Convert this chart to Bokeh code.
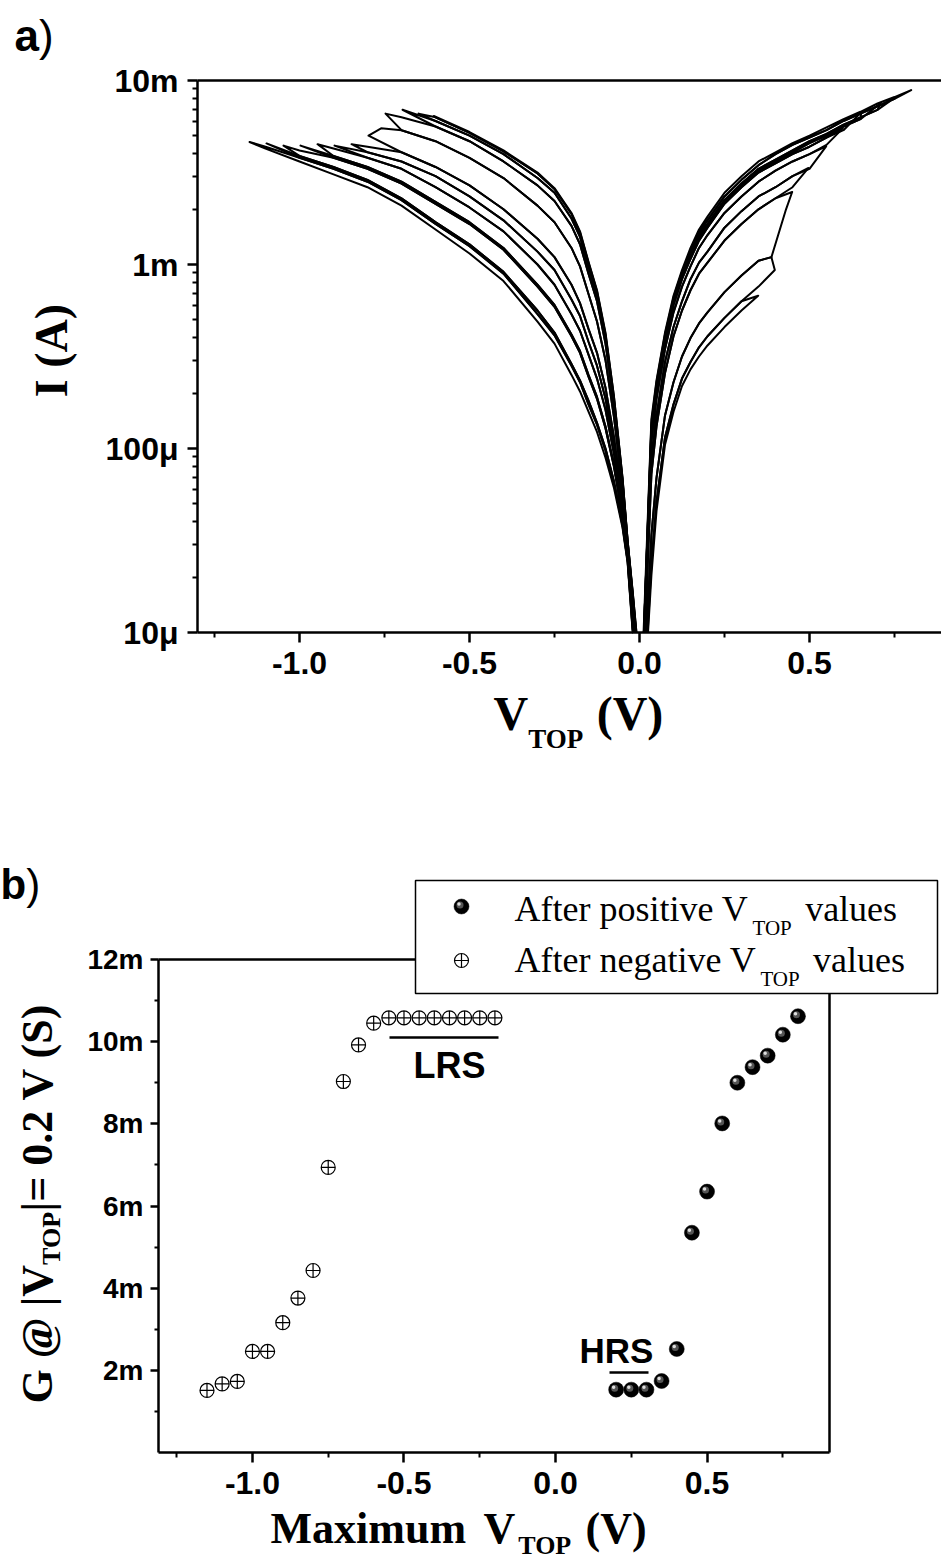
import math
from bokeh.plotting import figure
from bokeh.models import (Range1d, FixedTicker, CustomJSTickFormatter, PrintfTickFormatter,
                          Label, LinearAxis, ColumnDataSource)
from bokeh.layouts import column
from bokeh.embed import file_html
from bokeh.resources import INLINE

# ======================= panel a data : I-V sweeps (log10 of |I| in A) =======================
NEG_V = [-0.02, -0.035, -0.05, -0.075, -0.1, -0.125, -0.15, -0.175, -0.2, -0.25, -0.3, -0.4,
         -0.5, -0.6, -0.7, -0.8, -0.9, -1.0, -1.1]
N_FOOT_V = [-0.009, -0.009, -0.010, -0.010, -0.011, -0.012, -0.013, -0.014, -0.015, -0.016,
            -0.018, -0.018, -0.019]          # where each curve leaves the 10 uA floor
N0_LOG = [-4.78, -4.50, -4.16, -3.72, -3.37, -3.14, -2.985, -2.82, -2.72, -2.585, -2.50, -2.38, -2.28]
N0_TIP = (-0.605, -2.193)
N1_LOG = [-4.78, -4.50, -4.16, -3.72, -3.38, -3.145, -2.99, -2.825, -2.725, -2.59, -2.505, -2.385, -2.285, -2.20]
N1_TIP = (-0.65, -2.18)
N2_LOG = [-4.79, -4.50, -4.17, -3.74, -3.39, -3.165, -3.01, -2.85, -2.75, -2.61, -2.53, -2.40, -2.30, -2.22]
N2_TIP = (-0.697, -2.159)
N3_LOG = [-4.80, -4.51, -4.18, -3.76, -3.43, -3.20, -3.05, -2.89, -2.79, -2.655, -2.57, -2.44, -2.33, -2.25, -2.20]
N3_TIP = (-0.747, -2.18)
N4_LOG = [-4.83, -4.53, -4.22, -3.83, -3.52, -3.31, -3.16, -3.01, -2.91, -2.77, -2.68, -2.53, -2.42, -2.33, -2.27]
N4_EXTRA = [(-0.76, -2.26)]
N4_TIP = (-0.797, -2.30)
N5_LOG = [-4.88, -4.55, -4.28, -3.94, -3.67, -3.48, -3.35, -3.21, -3.11, -2.96, -2.86, -2.70, -2.57, -2.47, -2.39, -2.36]
N5_TIP = (-0.847, -2.346)
N6_LOG = [-4.90, -4.56, -4.30, -3.98, -3.73, -3.55, -3.42, -3.28, -3.19, -3.03, -2.93, -2.76, -2.63, -2.52, -2.44, -2.39]
N6_TIP = (-0.897, -2.354)
N7_LOG = [-4.92, -4.57, -4.33, -4.03, -3.79, -3.62, -3.49, -3.36, -3.27, -3.11, -3.00, -2.82, -2.69, -2.58, -2.48, -2.42, -2.37]
N7_TIP = (-0.947, -2.346)
N8_LOG = [-4.94, -4.59, -4.36, -4.09, -3.88, -3.72, -3.60, -3.47, -3.38, -3.22, -3.11, -2.91, -2.77, -2.66, -2.55, -2.47, -2.41]
N8_TIP = (-0.997, -2.354)
N9_LOG = [-4.95, -4.59, -4.37, -4.10, -3.89, -3.73, -3.61, -3.48, -3.39, -3.23, -3.12, -2.92, -2.78, -2.67, -2.56, -2.48, -2.42, -2.38]
N9_TIP = (-1.047, -2.354)
N10_LOG = [-4.98, -4.61, -4.41, -4.18, -4.00, -3.86, -3.74, -3.63, -3.54, -3.37, -3.25, -3.04, -2.89, -2.77, -2.64, -2.54, -2.47, -2.41]
N10_TIP = (-1.097, -2.342)
N11_LOG = [-4.99, -4.61, -4.42, -4.19, -4.01, -3.87, -3.76, -3.64, -3.55, -3.385, -3.27, -3.05, -2.90, -2.78, -2.65, -2.55, -2.48, -2.42, -2.36]
N11_TIP = (-1.147, -2.334)
N12_LOG = [-5.00, -4.62, -4.43, -4.215, -4.05, -3.91, -3.80, -3.69, -3.60, -3.43, -3.31, -3.09, -2.94, -2.81, -2.68, -2.58, -2.51, -2.44, -2.37]
N12_TIP = (-1.147, -2.334)

POS_V = [0.035, 0.05, 0.075, 0.1, 0.125, 0.15, 0.175, 0.2, 0.25, 0.3, 0.35, 0.4, 0.45, 0.5,
         0.55, 0.6, 0.65, 0.7, 0.75]
P_FOOT_V = [0.025, 0.024, 0.021, 0.016, 0.015, 0.014, 0.013, 0.013, 0.013, 0.013, 0.012]
P0_LOG = [-4.69, -4.34, -3.98, -3.80, -3.66, -3.57, -3.50, -3.44, -3.34, -3.25]
P0_TIP = (0.349, -3.17)
P1_LOG = [-4.63, -4.29, -3.94, -3.76, -3.62, -3.53, -3.45, -3.39, -3.29, -3.20, -3.12]
P1_TIP = (0.398, -3.03)
P2_LOG = [-4.47, -4.16, -3.82, -3.64, -3.50, -3.40, -3.32, -3.26, -3.15, -3.06, -2.98]
P2_EXTRA = [(0.388, -2.96), (0.431, -2.70)]
P2_TIP = (0.449, -2.606)
P3_LOG = [-4.14, -3.88, -3.59, -3.39, -3.25, -3.14, -3.05, -2.99, -2.87, -2.78, -2.70, -2.64, -2.58]
P3_TIP = (0.497, -2.475)
P4_LOG = [-4.06, -3.82, -3.53, -3.34, -3.20, -3.08, -2.99, -2.93, -2.80, -2.71, -2.63, -2.58, -2.52, -2.48]
P4_TIP = (0.549, -2.358)
P5_LOG = [-3.96, -3.73, -3.46, -3.26, -3.12, -3.01, -2.91, -2.84, -2.72, -2.63, -2.55, -2.49, -2.44, -2.40, -2.35]
P5_TIP = (0.598, -2.26)
P6_LOG = [-3.91, -3.69, -3.42, -3.22, -3.08, -2.97, -2.87, -2.80, -2.67, -2.58, -2.50, -2.45, -2.40, -2.36, -2.31, -2.27]
P6_TIP = (0.652, -2.173)
P7_LOG = [-3.89, -3.68, -3.41, -3.21, -3.07, -2.96, -2.855, -2.79, -2.66, -2.57, -2.49, -2.44, -2.39, -2.34, -2.30, -2.25, -2.21]
P7_TIP = (0.709, -2.123)
P8_LOG = [-3.88, -3.67, -3.40, -3.20, -3.06, -2.95, -2.84, -2.78, -2.65, -2.56, -2.48, -2.43, -2.38, -2.33, -2.29, -2.24, -2.20, -2.16]
P8_TIP = (0.752, -2.092)
P9_LOG = [-3.86, -3.64, -3.38, -3.18, -3.04, -2.93, -2.825, -2.76, -2.63, -2.54, -2.46, -2.40, -2.35, -2.31, -2.27, -2.22, -2.18, -2.14, -2.10]
P9_TIP = (0.799, -2.052)
P10_LOG = [-3.84, -3.63, -3.37, -3.17, -3.03, -2.91, -2.81, -2.74, -2.61, -2.52, -2.44, -2.39, -2.34, -2.30, -2.255, -2.21, -2.17, -2.125, -2.09]
P10_TIP = (0.799, -2.052)

# ======================= panel b data : G at |V|=0.2 V vs maximum V =======================
POS_MAX_V = [0.20, 0.25, 0.30, 0.35, 0.40, 0.45, 0.50, 0.55, 0.60, 0.65, 0.70, 0.75, 0.80]
POS_G_mS = [1.53, 1.53, 1.53, 1.74, 2.52, 5.35, 6.35, 8.01, 9.00, 9.38, 9.66, 10.17, 10.62]
NEG_MAX_V = [-1.15, -1.10, -1.05, -1.00, -0.95, -0.90, -0.85, -0.80, -0.75, -0.70, -0.65, -0.60,
             -0.55, -0.50, -0.45, -0.40, -0.35, -0.30, -0.25, -0.20]
NEG_G_mS = [1.51, 1.67, 1.73, 2.46, 2.46, 3.16, 3.76, 4.43, 6.94, 9.03, 9.92, 10.45,
            10.58, 10.58, 10.58, 10.58, 10.58, 10.58, 10.58, 10.58]
LEGEND_LABELS = ["After positive V", "After negative V"]

V_TICKS = [-1.0, -0.5, 0.0, 0.5]
V_MINOR = [-1.25, -0.75, -0.25, 0.25, 0.75]
I_TICKS = [1e-5, 1e-4, 1e-3, 1e-2]
I_TICK_LABELS = ["10\u03bc", "100\u03bc", "1m", "10m"]
G_TICKS = [0.002, 0.004, 0.006, 0.008, 0.010, 0.012]
G_TICK_LABELS = ["2m", "4m", "6m", "8m", "10m", "12m"]
G_MINOR = [0.001, 0.003, 0.005, 0.007, 0.009, 0.011]

# ======================= layout constants (pixels) =======================
W = 941
A_H = 760
A_L, A_T, A_FW, A_FH = 197, 80, 744, 552
A_X0 = -1.3
A_X1 = A_X0 + A_FW / 340.0
A_LOG0, A_LOG1 = -5.0, -2.0

B_H = 802
B_L, B_T, B_FW, B_FH = 158, 199, 671, 493
B_X0, B_X1 = -1.31, 0.904
B_Y0, B_Y1 = 0.0, 0.012

SANS = "Liberation Sans"
SERIF = "Liberation Serif"
BASE_FIX = 0.345   # Bokeh centres the text on the anchor: shift it so the anchor is the baseline


def ax(px):
    return A_X0 + (px - A_L) * (A_X1 - A_X0) / A_FW


def ay(py):
    return 10 ** (A_LOG1 - (py - A_T) * (A_LOG1 - A_LOG0) / A_FH)


def bx(px):
    return B_X0 + (px - B_L) * (B_X1 - B_X0) / B_FW


def by(py_page):
    py = py_page - A_H
    return B_Y1 - (py - B_T) * (B_Y1 - B_Y0) / B_FH


TB = {' ': 250, '(': 333, ')': 333, 'A': 722, 'I': 389, 'V': 722, 'T': 667, 'O': 778, 'P': 611,
      'M': 944, 'a': 500, 'x': 500, 'i': 278, 'm': 833, 'u': 556, 'G': 778, '@': 930, '|': 220,
      '=': 570, '0': 500, '.': 250, '2': 500, 'S': 556}
TR = {'A': 722, 'f': 333, 't': 278, 'e': 444, 'r': 333, ' ': 250, 'p': 500, 'o': 500, 's': 389,
      'i': 278, 'v': 500, 'V': 722, 'n': 500, 'g': 500, 'a': 444, 'l': 278, 'u': 500, 'T': 611,
      'O': 722, 'P': 556}


def tw(text, size, table):
    return sum(table.get(c, 500) for c in text) * size / 1000.0


def lab(p, mx, my, px, py, text, size, font=SERIF, style="bold", align="left", rotated=False):
    """px, py: wanted baseline anchor in page pixels; mx, my: pixel->data maps."""
    if rotated:
        px = px - BASE_FIX * size
    else:
        py = py - BASE_FIX * size
    p.add_layout(Label(x=mx(px), y=my(py), text=text, text_font=font, text_font_style=style,
                       text_font_size=f"{size}px", text_align=align,
                       text_baseline="middle", angle=math.pi / 2 if rotated else 0.0,
                       text_color="black", level="overlay"))


def style_axis(axis, size, standoff, tick_out=10, minor_out=5):
    axis.axis_line_width = 2.5
    axis.major_tick_line_width = 2.5
    axis.minor_tick_line_width = 2
    axis.major_tick_in = 0
    axis.minor_tick_in = 0
    axis.major_tick_out = tick_out
    axis.minor_tick_out = minor_out
    axis.major_label_standoff = standoff
    axis.major_label_text_font = SANS
    axis.major_label_text_font_style = "bold"
    axis.major_label_text_font_size = f"{size}px"
    axis.major_label_text_color = "black"
    axis.axis_label = None


def plain_axis(loc, bounds):
    return LinearAxis(ticker=FixedTicker(ticks=[]), axis_line_width=2.5, fixed_location=loc,
                      bounds=bounds, major_tick_out=0, major_tick_in=0, minor_tick_out=0,
                      minor_tick_in=0, major_label_text_font_size="0px")


def build(grid, logs, foot, tip, extras=()):
    vs = [foot] + list(grid[:len(logs)]) + [e[0] for e in extras] + [tip[0]]
    ls = [A_LOG0] + list(logs) + [e[1] for e in extras] + [tip[1]]
    return vs, ls


def loops(curves):
    xs, ys = [], []
    for k in range(1, len(curves)):
        ov, ol = curves[k - 1]
        tipv = ov[-1]
        bv, bl = curves[k]
        back = [(v, l) for v, l in zip(bv, bl) if abs(v) < abs(tipv) - 1e-6][::-1]
        xs.append(ov + [b[0] for b in back])
        ys.append([10 ** l for l in ol] + [10 ** b[1] for b in back])
    return xs, ys


NLOG = [N0_LOG, N1_LOG, N2_LOG, N3_LOG, N4_LOG, N5_LOG, N6_LOG, N7_LOG, N8_LOG, N9_LOG,
        N10_LOG, N11_LOG, N12_LOG]
NTIP = [N0_TIP, N1_TIP, N2_TIP, N3_TIP, N4_TIP, N5_TIP, N6_TIP, N7_TIP, N8_TIP, N9_TIP,
        N10_TIP, N11_TIP, N12_TIP]
neg_curves = [build(NEG_V, NLOG[i], N_FOOT_V[i], NTIP[i], N4_EXTRA if i == 4 else ())
              for i in range(len(NLOG))]
PLOG = [P0_LOG, P1_LOG, P2_LOG, P3_LOG, P4_LOG, P5_LOG, P6_LOG, P7_LOG, P8_LOG, P9_LOG, P10_LOG]
PTIP = [P0_TIP, P1_TIP, P2_TIP, P3_TIP, P4_TIP, P5_TIP, P6_TIP, P7_TIP, P8_TIP, P9_TIP, P10_TIP]
pos_curves = [build(POS_V, PLOG[i], P_FOOT_V[i], PTIP[i], P2_EXTRA if i == 2 else ())
              for i in range(len(PLOG))]

nx, ny = loops(neg_curves)
px_, py_ = loops(pos_curves)

# ======================= panel a =======================
pa = figure(width=W, height=A_H, output_backend="svg", toolbar_location=None, title=None,
            x_range=Range1d(ax(0), ax(W)), y_range=Range1d(ay(A_H), ay(0)),
            y_axis_type="log", min_border=0, min_border_left=0, min_border_right=0,
            min_border_top=0, min_border_bottom=0)
pa.outline_line_color = None
pa.grid.visible = False
pa.background_fill_color = "white"
pa.border_fill_color = "white"

pa.multi_line(xs=nx + px_, ys=ny + py_, line_color="black", line_width=2.0, line_join="round")

pa.xaxis.ticker = FixedTicker(ticks=V_TICKS, minor_ticks=V_MINOR)
pa.xaxis.formatter = PrintfTickFormatter(format="%.1f")
pa.xaxis.fixed_location = 10 ** A_LOG0
pa.xaxis.bounds = (A_X0, A_X1)
style_axis(pa.xaxis[0], 32, 9)
minor_I = [k * 10 ** e for e in (-5, -4, -3) for k in range(2, 10)]
pa.yaxis.ticker = FixedTicker(ticks=I_TICKS, minor_ticks=minor_I)
pa.yaxis.formatter = CustomJSTickFormatter(
    args=dict(t=I_TICKS, l=I_TICK_LABELS),
    code="for (let i = 0; i < t.length; i++) { if (Math.abs(Math.log10(tick) - Math.log10(t[i])) < 1e-6) return l[i]; } return '';")
pa.yaxis.fixed_location = A_X0
pa.yaxis.bounds = (10 ** A_LOG0, 10 ** A_LOG1)
style_axis(pa.yaxis[0], 32, 9)
pa.add_layout(plain_axis(10 ** A_LOG1, (A_X0, A_X1)), "above")

# texts of panel a
lab(pa, ax, ay, 14, 50, "a", 44, font=SANS, style="bold")
lab(pa, ax, ay, 14 + 0.556 * 44, 50, ")", 44, font=SANS, style="normal")
lab(pa, ax, ay, 67, 350, "I (A)", 46, align="center", rotated=True)
xv = 493
lab(pa, ax, ay, xv, 730, "V", 48)
xs_sub = xv + tw("V", 48, TB)
lab(pa, ax, ay, xs_sub, 748, "TOP", 27)
lab(pa, ax, ay, xs_sub + tw("TOP", 27, TB) + 13, 730, "(V)", 48)

# ======================= panel b =======================
pb = figure(width=W, height=B_H, output_backend="svg", toolbar_location=None, title=None,
            x_range=Range1d(bx(0), bx(W)), y_range=Range1d(by(A_H + B_H), by(A_H)),
            min_border=0, min_border_left=0, min_border_right=0, min_border_top=0,
            min_border_bottom=0)
pb.outline_line_color = None
pb.grid.visible = False
pb.background_fill_color = "white"
pb.border_fill_color = "white"

ddx = (B_X1 - B_X0) / B_FW
ddy = (B_Y1 - B_Y0) / B_FH


def sphere(src_v, src_g, level="glyph"):
    base = ColumnDataSource(dict(v=src_v, g=src_g))
    h1 = ColumnDataSource(dict(v=[v - 1.5 * ddx for v in src_v], g=[g + 1.5 * ddy for g in src_g]))
    h2 = ColumnDataSource(dict(v=[v - 2.5 * ddx for v in src_v], g=[g + 2.5 * ddy for g in src_g]))
    pb.scatter("v", "g", source=base, marker="circle", size=15, fill_color="black",
               line_color="black", line_width=0.5, level=level)
    pb.scatter("v", "g", source=h1, marker="circle", size=7, fill_color="#555555",
               line_color=None, level=level)
    pb.scatter("v", "g", source=h2, marker="circle", size=3.5, fill_color="#dddddd",
               line_color=None, level=level)


def crosses(src_v, src_g, level="glyph"):
    src = ColumnDataSource(dict(v=src_v, g=src_g))
    pb.scatter("v", "g", source=src, marker="circle_cross", size=14, fill_color="white",
               line_color="black", line_width=1.2, level=level)


crosses(NEG_MAX_V, [x * 1e-3 for x in NEG_G_mS])
sphere(POS_MAX_V, [x * 1e-3 for x in POS_G_mS])

pb.xaxis.ticker = FixedTicker(ticks=V_TICKS, minor_ticks=V_MINOR)
pb.xaxis.formatter = PrintfTickFormatter(format="%.1f")
pb.xaxis.fixed_location = B_Y0
pb.xaxis.bounds = (B_X0, B_X1)
style_axis(pb.xaxis[0], 32, 9)
pb.yaxis.ticker = FixedTicker(ticks=G_TICKS, minor_ticks=G_MINOR)
pb.yaxis.formatter = CustomJSTickFormatter(
    args=dict(t=G_TICKS, l=G_TICK_LABELS),
    code="for (let i = 0; i < t.length; i++) { if (Math.abs(tick - t[i]) < 1e-9) return l[i]; } return '';")
pb.yaxis.fixed_location = B_X0
pb.yaxis.bounds = (B_Y0, B_Y1)
style_axis(pb.yaxis[0], 28, 7, tick_out=8, minor_out=4)
pb.add_layout(plain_axis(B_Y1, (B_X0, B_X1)), "above")
pb.add_layout(plain_axis(B_X1, (B_Y0, B_Y1)), "right")

# state markers
pb.segment(x0=[bx(389)], y0=[by(1037)], x1=[bx(498)], y1=[by(1037)], line_color="black", line_width=2.5)
pb.segment(x0=[bx(609)], y0=[by(1372)], x1=[bx(648)], y1=[by(1372)], line_color="black", line_width=2.5)
lab(pb, bx, by, 449, 1077, "LRS", 36, font=SANS, align="center")
lab(pb, bx, by, 616, 1362, "HRS", 35, font=SANS, align="center")

# legend: framed box drawn above the axes, with its two marker samples and texts
pb.quad(left=[bx(415)], right=[bx(937)], top=[by(880)], bottom=[by(993)], fill_color="white",
        line_color="black", line_width=1.5, level="annotation")
sphere([bx(461)], [by(906)], level="annotation")
crosses([bx(461)], [by(960)], level="annotation")
for text, base in zip(LEGEND_LABELS, (921, 972)):
    lab(pb, bx, by, 514, base, text, 36, style="normal")
    sx = 514 + tw(text, 36, TR) + 4
    lab(pb, bx, by, sx, base + 14, "TOP", 21, style="normal")
    lab(pb, bx, by, sx + tw("TOP", 21, TR) + 13, base, "values", 36, style="normal")

# axis titles of panel b
lab(pb, bx, by, 0, 898, "b", 42, font=SANS, style="bold")
lab(pb, bx, by, 0.611 * 42, 898, ")", 42, font=SANS, style="normal")
lab(pb, bx, by, 270, 1543, "Maximum", 44)
lab(pb, bx, by, 483, 1543, "V", 44)
lab(pb, bx, by, 483 + tw("V", 44, TB) + 3, 1554, "TOP", 26)
lab(pb, bx, by, 585, 1543, "(V)", 44)

ys0 = 1403
p1, p2, p3 = "G @ |V", "TOP", "|= 0.2 V  (S)"
lab(pb, bx, by, 52, ys0, p1, 44, rotated=True)
y2 = ys0 - tw(p1, 44, TB)
lab(pb, bx, by, 60, y2, p2, 26, rotated=True)
y3 = y2 - tw(p2, 26, TB)
lab(pb, bx, by, 52, y3, p3, 44, rotated=True)

layout = column(pa, pb, spacing=0)
open("out.html", "w").write(file_html(layout, INLINE))
